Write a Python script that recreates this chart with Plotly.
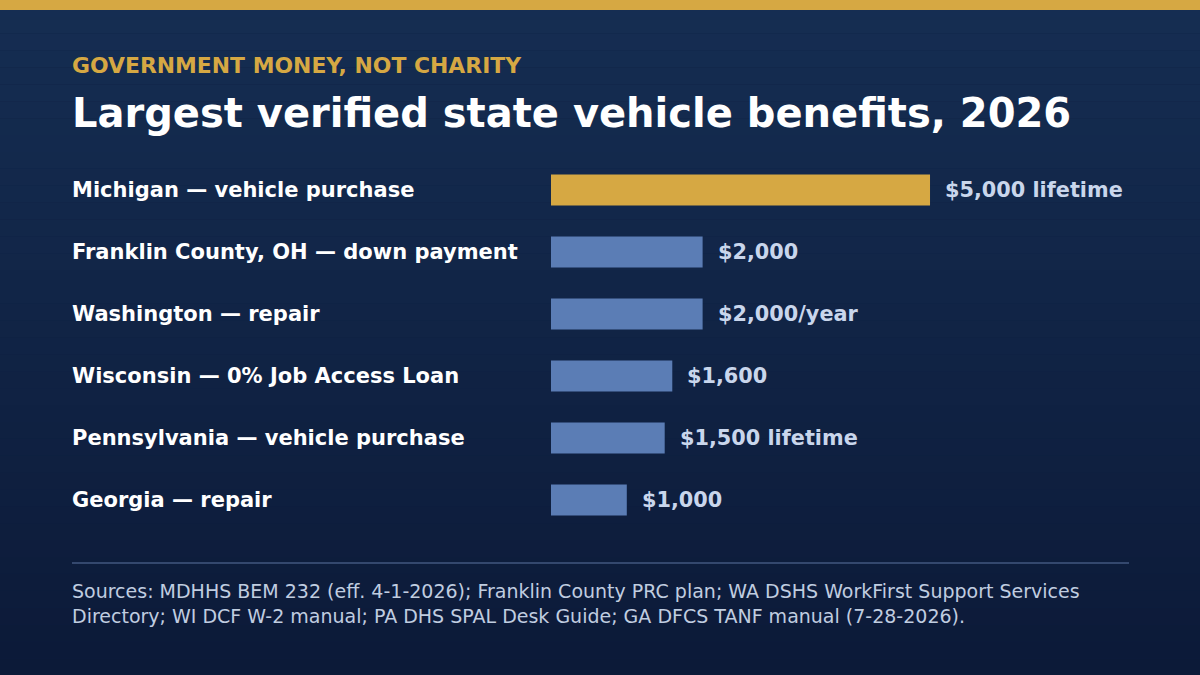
import plotly.graph_objects as go

labels = ["Michigan — vehicle purchase", "Franklin County, OH — down payment", "Washington — repair",
          "Wisconsin — 0% Job Access Loan", "Pennsylvania — vehicle purchase", "Georgia — repair"]
values = [5000, 2000, 2000, 1600, 1500, 1000]
value_text = ["$5,000 lifetime", "$2,000", "$2,000/year", "$1,600", "$1,500 lifetime", "$1,000"]
colors = ["#d6a843"] + ["#5b7db5"] * 5

W, H = 1200, 675
fig = go.Figure()
fig.add_trace(go.Bar(x=values, y=list(range(6)), orientation="h", width=0.5,
                     marker=dict(color=colors, line=dict(width=0)), hoverinfo="skip"))

shapes = []
n = 40
top, bot = (0x15, 0x2d, 0x52), (0x0c, 0x1a, 0x38)
for i in range(n):
    t = i / (n - 1)
    c = tuple(round(a + (b - a) * t) for a, b in zip(top, bot))
    shapes.append(dict(type="rect", xref="paper", yref="paper", x0=0, x1=1,
                       y0=1 - (i + 1) / n, y1=1 - i / n, fillcolor="rgb(%d,%d,%d)" % c,
                       line=dict(width=0), layer="below"))
shapes.append(dict(type="rect", xref="paper", yref="paper", x0=0, x1=1, y0=1 - 10 / H, y1=1,
                   fillcolor="#d6a843", line=dict(width=0)))
shapes.append(dict(type="line", xref="paper", yref="paper", x0=72 / W, x1=1129 / W,
                   y0=1 - 563 / H, y1=1 - 563 / H, line=dict(color="#34486e", width=2)))

ann = [
    dict(text="<b>GOVERNMENT MONEY, NOT CHARITY</b>", x=70 / W, y=1 - 66 / H,
         font=dict(size=21.9, color="#d6a843", family="DejaVu Sans")),
    dict(text="<b>Largest verified state vehicle benefits, 2026</b>", x=70 / W, y=1 - 113 / H,
         font=dict(size=40, color="white", family="DejaVu Sans")),
    dict(text="Sources: MDHHS BEM 232 (eff. 4-1-2026); Franklin County PRC plan; WA DSHS WorkFirst Support Services<br>Directory; WI DCF W-2 manual; PA DHS SPAL Desk Guide; GA DFCS TANF manual (7-28-2026).",
         x=70 / W, y=1 - 603 / H, align="left",
         font=dict(size=19, color="#c0cde0", family="DejaVu Sans")),
]
for a in ann:
    a.update(xref="paper", yref="paper")
for i, l in enumerate(labels):
    ann.append(dict(text="<b>%s</b>" % l, x=70 / W, y=1 - (190 + 62 * i) / H, xref="paper", yref="paper",
                    font=dict(size=21, color="white", family="DejaVu Sans")))
for i, (v, t) in enumerate(zip(values, value_text)):
    ann.append(dict(text="<b>%s</b>" % t, x=v, y=i, xref="x", yref="y", xshift=13,
                    font=dict(size=20.8, color="#c9d6ec", family="DejaVu Sans")))
for a in ann:
    a.update(xanchor="left", yanchor="middle", showarrow=False)

fig.update_layout(width=W, height=H, margin=dict(l=0, r=0, t=0, b=0),
                  paper_bgcolor="#0f2143", plot_bgcolor="rgba(0,0,0,0)",
                  shapes=shapes, annotations=ann, showlegend=False,
                  xaxis=dict(domain=[551 / W, 1129 / W], range=[0, 7625], visible=False),
                  yaxis=dict(domain=[1 - 531 / H, 1 - 159 / H], range=[5.5, -0.5], visible=False))
fig.write_html("out.html", config={"displayModeBar": False})
with open("out.html") as f:
    html = f.read()
html = html.replace("<head>", "<head><style>html,body{margin:0;padding:0;overflow:hidden;background:#0c1a38}</style>", 1)
with open("out.html", "w") as f:
    f.write(html)
